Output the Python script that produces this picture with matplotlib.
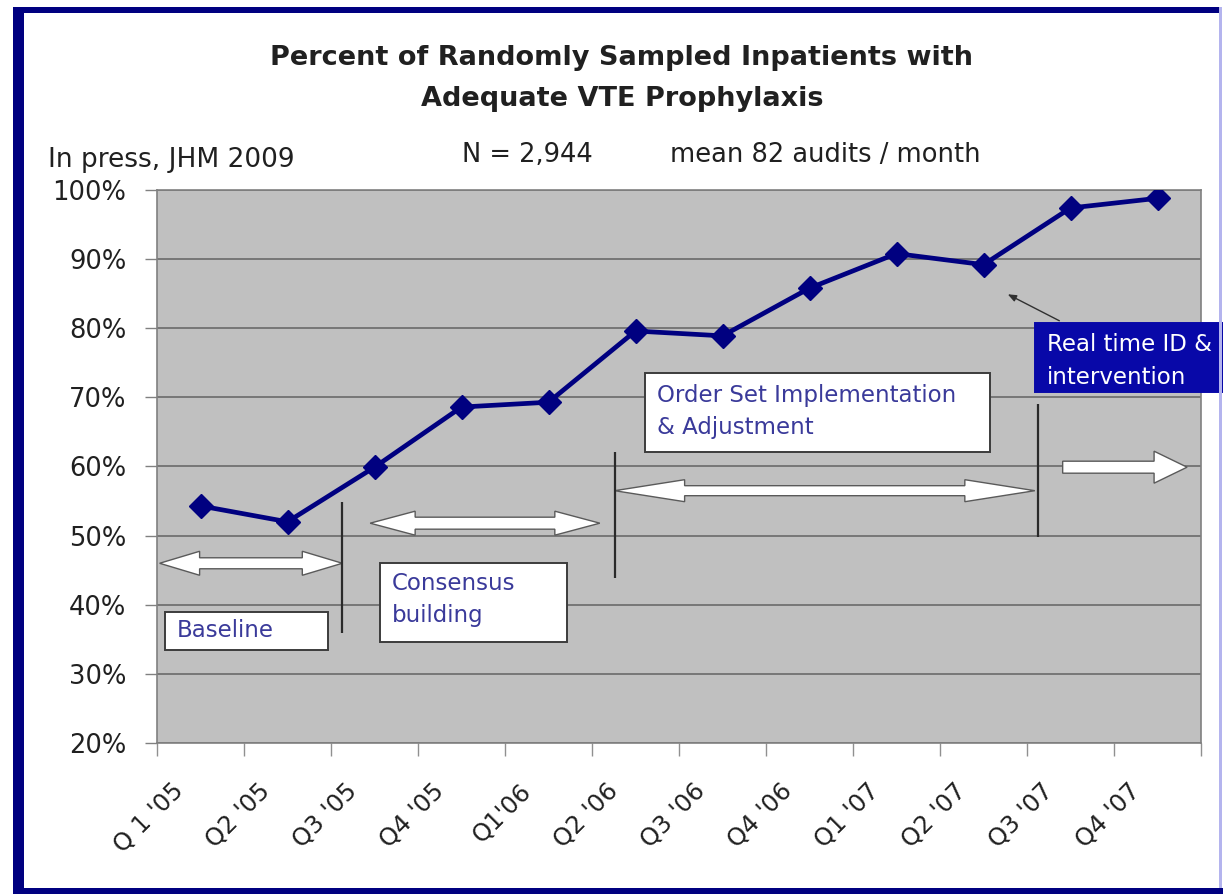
import matplotlib
matplotlib.use("Agg")
import matplotlib.pyplot as plt
import matplotlib.transforms as mtransforms
from matplotlib.patches import Polygon, Rectangle
from matplotlib.ticker import FixedLocator, PercentFormatter

plt.rcParams["font.family"] = ["DejaVu Sans"]

quarters = ["Q 1 '05", "Q2 '05", "Q3 '05", "Q4 '05", "Q1'06", "Q2 '06",
            "Q3 '06", "Q4 '06", "Q1 '07", "Q2 '07", "Q3 '07", "Q4 '07"]
pct_adequate = [54.3, 52.0, 59.9, 68.6, 69.3, 79.6,
                78.9, 85.8, 90.8, 89.2, 97.4, 98.8]
y_ticks = [20, 30, 40, 50, 60, 70, 80, 90, 100]

NAVY = "#000080"
BOX_TEXT = "#3a3a9a"
INK = "#202020"
W, H = 1223, 894


def block_arrow(ax, x0, x1, y, shaft, head_w, head_l, both=True):
    # sizes are in pixels, ends in data units
    (ax0, ay), (ax1, _) = ax.transData.transform([(x0, y), (x1, y)])
    s, hw = shaft / 2, head_w / 2
    pts = []
    if both:
        pts += [(ax0, ay), (ax0 + head_l, ay + hw), (ax0 + head_l, ay + s)]
    else:
        pts += [(ax0, ay + s)]
    pts += [(ax1 - head_l, ay + s), (ax1 - head_l, ay + hw), (ax1, ay),
            (ax1 - head_l, ay - hw), (ax1 - head_l, ay - s)]
    if both:
        pts += [(ax0 + head_l, ay - s), (ax0 + head_l, ay - hw)]
    else:
        pts += [(ax0, ay - s)]
    data_pts = ax.transData.inverted().transform(pts)
    ax.add_patch(Polygon(data_pts, closed=True, fc="white", ec="#5a5a5a",
                         lw=1.0, zorder=4, clip_on=False))


def label_box(ax, x0, x1, y0, y1, lines, ys, fc="white", ec="#3c3c3c",
              color=BOX_TEXT, size=16.5):
    ax.add_patch(Rectangle((x0, y0), x1 - x0, y1 - y0, fc=fc, ec=ec, lw=1.4,
                           zorder=5, clip_on=False))
    for txt, yy in zip(lines, ys):
        ax.text(x0 + 0.14, yy, txt, color=color, fontsize=size, va="center",
                ha="left", zorder=6, clip_on=False)


def frame_bar(fig, x0, y0, x1, y1, color):
    # pixel box measured from the top-left corner
    fig.patches.append(Rectangle((x0 / W, 1 - y1 / H), (x1 - x0) / W, (y1 - y0) / H,
                                 transform=fig.transFigure, fc=color, ec="none"))


fig = plt.figure(figsize=(W / 100, H / 100), dpi=100)
ax = fig.add_axes([157 / W, 1 - 743 / H, (1201 - 157) / W, (743 - 190) / H])
ax.set_facecolor("#c0c0c0")
ax.set_xlim(0, len(quarters))
ax.set_ylim(20, 100)

xs = [i + 0.5 for i in range(len(quarters))]
ax.plot(xs, pct_adequate, color=NAVY, lw=3.4, marker="D", markersize=12,
        markeredgecolor=NAVY, zorder=7)

ax.yaxis.set_major_locator(FixedLocator(y_ticks))
ax.yaxis.set_major_formatter(PercentFormatter(decimals=0))
ax.grid(axis="y", color="#6a6a6a", lw=1.2)
ax.set_axisbelow(True)
ax.tick_params(axis="y", length=9, width=1, color="#808080", pad=13,
               labelsize=18.5, labelcolor=INK)

ax.set_xticks(xs)
ax.set_xticks(range(len(quarters) + 1), minor=True)
ax.set_xticklabels(quarters, rotation=45, ha="right", va="center",
                   rotation_mode="anchor", fontsize=17.5, color=INK)
ax.tick_params(axis="x", which="major", length=0, pad=32)
ax.tick_params(axis="x", which="minor", length=9, width=1, color="#909090")
shift = mtransforms.ScaledTranslation(-21 / 100, 0, fig.dpi_scale_trans)
for lab in ax.get_xticklabels():
    lab.set_transform(lab.get_transform() + shift)

for side in ["left", "bottom", "top", "right"]:
    ax.spines[side].set_color("#808080")
    ax.spines[side].set_linewidth(1.2)

# phase markers
ax.vlines([2.13, 5.26, 10.13], [35.9, 43.9, 49.8], [54.9, 62.1, 69.1],
          color="#2a2a2a", lw=1.6, zorder=5)

block_arrow(ax, 0.03, 2.13, 46.0, 11, 24, 40)
block_arrow(ax, 2.45, 5.09, 51.8, 12, 24, 45)
block_arrow(ax, 5.26, 10.09, 56.5, 10, 22, 70)
block_arrow(ax, 10.41, 11.84, 59.9, 12, 32, 33, both=False)

label_box(ax, 0.09, 1.97, 33.5, 39.0, ["Baseline"], [36.3])
label_box(ax, 2.56, 4.71, 34.6, 46.0, ["Consensus", "building"], [43.1, 38.5])
label_box(ax, 5.61, 9.57, 62.1, 73.5, ["Order Set Implementation", "& Adjustment"], [70.3, 65.6])
label_box(ax, 10.09, 12.3, 70.8, 80.8, ["Real time ID &", "intervention"], [77.6, 72.9],
          fc="#0808a8", ec="#0808a8", color="white", size=16.5)

ax.annotate("", xy=(9.75, 85.1), xytext=(10.40, 80.9),
            arrowprops=dict(arrowstyle="-|>,head_length=0.5,head_width=0.2",
                            color="#303030", lw=1.0), zorder=6)

# titles and notes
fig.text(622 / W, 1 - 58 / H, "Percent of Randomly Sampled Inpatients with",
         ha="center", va="center", fontsize=19.5, fontweight="bold", color=INK)
fig.text(622 / W, 1 - 99 / H, "Adequate VTE Prophylaxis",
         ha="center", va="center", fontsize=19.5, fontweight="bold", color=INK)
fig.text(48 / W, 1 - 160 / H, "In press, JHM 2009", ha="left", va="center",
         fontsize=19, color=INK)
fig.text(462 / W, 1 - 155 / H, "N = 2,944", ha="left", va="center",
         fontsize=18.5, color=INK)
fig.text(670 / W, 1 - 155 / H, "mean 82 audits / month", ha="left", va="center",
         fontsize=18.5, color=INK)

# outer frame: heavy navy on three sides, thin light edge on the right
frame_bar(fig, 13, 7, 1221, 13, NAVY)
frame_bar(fig, 13, 7, 24, 894, NAVY)
frame_bar(fig, 13, 888, 1223, 894, NAVY)
frame_bar(fig, 1219, 7, 1222, 888, "#b4b4ee")

fig.savefig("out.png", dpi=100)
